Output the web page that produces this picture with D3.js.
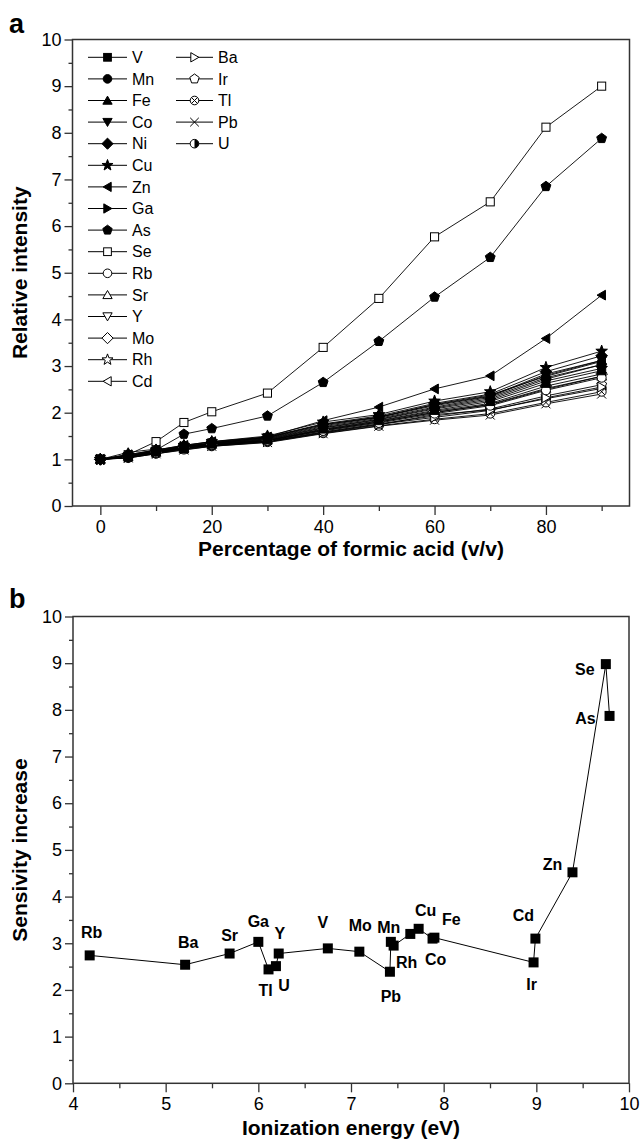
<!DOCTYPE html>
<html><head><meta charset="utf-8">
<script src="https://cdn.jsdelivr.net/npm/d3@7/dist/d3.min.js"></script>
<style>body{margin:0;background:#fff}svg{display:block}text{font-family:"Liberation Sans",Arial,Helvetica,sans-serif}</style>
</head><body><svg id="c" width="641" height="1140"></svg>
<script>
// ---------------- DATA ----------------
const formicPct = [0, 5, 10, 15, 20, 30, 40, 50, 60, 70, 80, 90];

const relV  = [1, 1.05, 1.16, 1.25, 1.33, 1.42, 1.65, 1.83, 2.05, 2.24, 2.63, 2.90];
const relMn = [1, 1.05, 1.17, 1.26, 1.34, 1.44, 1.68, 1.86, 2.10, 2.30, 2.72, 3.03];
const relFe = [1, 1.15, 1.22, 1.22, 1.36, 1.47, 1.74, 1.91, 2.17, 2.36, 2.83, 3.12];
const relCo = [1, 1.06, 1.18, 1.27, 1.35, 1.46, 1.72, 1.90, 2.15, 2.35, 2.80, 3.12];
const relNi = [1, 1.07, 1.19, 1.29, 1.37, 1.48, 1.76, 1.93, 2.20, 2.40, 2.88, 3.22];
const relCu = [1, 1.08, 1.20, 1.30, 1.38, 1.50, 1.80, 1.96, 2.25, 2.45, 2.97, 3.32];
const relZn = [1, 1.10, 1.20, 1.30, 1.38, 1.48, 1.83, 2.12, 2.51, 2.79, 3.59, 4.52];
const relGa = [1, 1.06, 1.17, 1.28, 1.34, 1.45, 1.70, 1.88, 2.12, 2.33, 2.75, 3.03];
const relAs = [1, 1.10, 1.20, 1.54, 1.66, 1.93, 2.65, 3.53, 4.48, 5.33, 6.85, 7.88];
const relSe = [1, 1.10, 1.38, 1.79, 2.02, 2.42, 3.40, 4.45, 5.77, 6.52, 8.12, 9.00];
const relRb = [1, 1.04, 1.14, 1.25, 1.31, 1.40, 1.61, 1.78, 1.98, 2.15, 2.48, 2.75];
const relSr = [1, 1.06, 1.15, 1.25, 1.32, 1.41, 1.63, 1.80, 2.00, 2.18, 2.52, 2.78];
const relY  = [1, 1.05, 1.14, 1.24, 1.31, 1.40, 1.62, 1.80, 2.01, 2.17, 2.50, 2.78];
const relMo = [1, 1.05, 1.15, 1.26, 1.32, 1.41, 1.64, 1.82, 2.03, 2.20, 2.57, 2.83];
const relRh = [1, 1.06, 1.16, 1.27, 1.33, 1.43, 1.67, 1.85, 2.08, 2.27, 2.68, 2.95];
const relCd = [1, 1.07, 1.18, 1.28, 1.35, 1.47, 1.75, 1.90, 2.18, 2.38, 2.78, 3.10];
const relBa = [1, 1.04, 1.13, 1.23, 1.30, 1.38, 1.58, 1.75, 1.90, 2.05, 2.32, 2.55];
const relIr = [1, 1.05, 1.14, 1.24, 1.30, 1.39, 1.59, 1.76, 1.93, 2.08, 2.36, 2.60];
const relTl = [1, 1.03, 1.12, 1.21, 1.28, 1.37, 1.56, 1.72, 1.86, 1.98, 2.22, 2.45];
const relPb = [1, 1.03, 1.12, 1.20, 1.28, 1.36, 1.55, 1.71, 1.84, 1.95, 2.19, 2.40];
const relU  = [1, 1.04, 1.13, 1.22, 1.29, 1.38, 1.57, 1.74, 1.96, 2.06, 2.30, 2.52];

const legendCol1 = ["V","Mn","Fe","Co","Ni","Cu","Zn","Ga","As","Se","Rb","Sr","Y","Mo","Rh","Cd"];
const legendCol2 = ["Ba","Ir","Tl","Pb","U"];

const ieElements = ["Rb","Ba","Sr","Ga","Tl","U","Y","V","Mo","Pb","Mn","Rh","Ni","Cu","Co","Fe","Ir","Cd","Zn","Se","As"];
const ionizationEnergy = [4.18,5.21,5.69,6.00,6.11,6.19,6.22,6.75,7.09,7.42,7.43,7.46,7.64,7.73,7.88,7.90,8.97,8.99,9.39,9.75,9.79];
const sensitivityIncrease = [2.74,2.54,2.78,3.03,2.44,2.51,2.78,2.89,2.82,2.39,3.03,2.95,3.20,3.31,3.10,3.12,2.59,3.10,4.52,8.98,7.87];
const labelledElements = ["Rb","Ba","Sr","Ga","Tl","U","Y","V","Mo","Pb","Mn","Rh","Cu","Co","Fe","Ir","Cd","Zn","Se","As"];

const aYTicks = [0,1,2,3,4,5,6,7,8,9,10];
const aYMinor = [0.5,1.5,2.5,3.5,4.5,5.5,6.5,7.5,8.5,9.5];
const aXTicks = [0,20,40,60,80];
const aXMinor = [10,30,50,70,90];
const bXTicks = [4,5,6,7,8,9,10];
const bXMinor = [4.5,5.5,6.5,7.5,8.5,9.5];

const seriesTable = {V:relV,Mn:relMn,Fe:relFe,Co:relCo,Ni:relNi,Cu:relCu,Zn:relZn,Ga:relGa,As:relAs,Se:relSe,
  Rb:relRb,Sr:relSr,Y:relY,Mo:relMo,Rh:relRh,Cd:relCd,Ba:relBa,Ir:relIr,Tl:relTl,Pb:relPb,U:relU};

// ---------------- STYLE / LAYOUT ----------------
const markerStyle = {
  V:["square",1],Mn:["circle",1],Fe:["triUp",1],Co:["triDown",1],Ni:["diamond",1],Cu:["star",1],
  Zn:["triLeft",1],Ga:["triRight",1],As:["pentagon",1],Se:["square",0],Rb:["circle",0],Sr:["triUp",0],
  Y:["triDown",0],Mo:["diamond",0],Rh:["star",0],Cd:["triLeft",0],Ba:["triRight",0],Ir:["pentagon",0],
  Tl:["circX",0],Pb:["x",0],U:["half",0]
};
const labelOffset = {
  Rb:[2,-23],Ba:[3,-22],Sr:[0,-18],Ga:[0,-21],Y:[1,-20],Tl:[-3,21],U:[8,19],V:[-5,-26],Mo:[1,-26],
  Mn:[-2,-15],Rh:[13,17],Cu:[7,-19],Fe:[17,-18],Co:[3,21],Pb:[1,25],Ir:[-2,22],Cd:[-12,-23],
  Zn:[-20,-8],Se:[-21,5],As:[-24,2]
};

const svg = d3.select("#c");
const INK = "#000", FRAME = "#333";

function regPoly(n, r, rotDeg){
  const pts=[]; for(let i=0;i<n;i++){const a=(rotDeg+i*360/n)*Math.PI/180; pts.push([r*Math.cos(a), r*Math.sin(a)]);}
  return "M"+pts.map(p=>p[0].toFixed(2)+","+p[1].toFixed(2)).join("L")+"Z";
}
function starPath(ro, ri){
  const pts=[]; for(let i=0;i<10;i++){const r=i%2?ri:ro; const a=(-90+i*36)*Math.PI/180; pts.push([r*Math.cos(a), r*Math.sin(a)]);}
  return "M"+pts.map(p=>p[0].toFixed(2)+","+p[1].toFixed(2)).join("L")+"Z";
}
function drawMarker(g, name, x, y, r){
  const [shape, filled] = markerStyle[name];
  const m = g.append("g").attr("transform",`translate(${x},${y})`);
  const fill = filled ? INK : "#fff";
  const sw = 1;
  switch(shape){
    case "square": m.append("rect").attr("x",-r*0.9).attr("y",-r*0.9).attr("width",r*1.8).attr("height",r*1.8).attr("fill",fill).attr("stroke",INK).attr("stroke-width",sw); break;
    case "circle": m.append("circle").attr("r",r).attr("fill",fill).attr("stroke",INK).attr("stroke-width",sw); break;
    case "triUp": m.append("path").attr("d",regPoly(3,r*1.25,-90)).attr("transform","translate(0,1)").attr("fill",fill).attr("stroke",INK).attr("stroke-width",sw); break;
    case "triDown": m.append("path").attr("d",regPoly(3,r*1.25,90)).attr("transform","translate(0,-1)").attr("fill",fill).attr("stroke",INK).attr("stroke-width",sw); break;
    case "triLeft": m.append("path").attr("d",regPoly(3,r*1.25,180)).attr("transform","translate(1,0)").attr("fill",fill).attr("stroke",INK).attr("stroke-width",sw); break;
    case "triRight": m.append("path").attr("d",regPoly(3,r*1.25,0)).attr("transform","translate(-1,0)").attr("fill",fill).attr("stroke",INK).attr("stroke-width",sw); break;
    case "diamond": m.append("path").attr("d",regPoly(4,r*1.3,-90)).attr("fill",fill).attr("stroke",INK).attr("stroke-width",sw); break;
    case "pentagon": m.append("path").attr("d",regPoly(5,r*1.15,-90)).attr("fill",fill).attr("stroke",INK).attr("stroke-width",sw); break;
    case "star": m.append("path").attr("d",starPath(r*1.35,r*0.55)).attr("fill",fill).attr("stroke",INK).attr("stroke-width",sw); break;
    case "circX":
      m.append("circle").attr("r",r).attr("fill","#fff").attr("stroke",INK).attr("stroke-width",sw);
      const k=r*0.7;
      m.append("path").attr("d",`M${-k},${-k}L${k},${k}M${-k},${k}L${k},${-k}`).attr("stroke",INK).attr("stroke-width",sw); break;
    case "x":
      m.append("path").attr("d",`M${-r},${-r}L${r},${r}M${-r},${r}L${r},${-r}`).attr("stroke",INK).attr("stroke-width",sw).attr("fill","none"); break;
    case "half":
      m.append("circle").attr("r",r).attr("fill","#fff").attr("stroke",INK).attr("stroke-width",sw);
      m.append("path").attr("d",`M0,${-r}A${r},${r} 0 0 1 0,${r}Z`).attr("fill",INK); break;
  }
}

function styleAxis(g, fontSize){
  g.select(".domain").remove();
  g.selectAll(".tick line").attr("stroke",FRAME).attr("stroke-width",1.3);
  g.selectAll(".tick text").attr("fill",INK).style("font-size",fontSize+"px").style("font-family",'"Liberation Sans",Arial,sans-serif');
}

// ---------------- PANEL A ----------------
const ax = d3.scaleLinear().domain([-5,95]).range([72.5,629.5]);
const ay = d3.scaleLinear().domain([0,10]).range([506,39.5]);

const gA = svg.append("g");
gA.append("g").attr("transform","translate(72.5,0)").call(d3.axisLeft(ay).tickValues(aYTicks).tickSize(8).tickPadding(3).tickFormat(d3.format("d"))).call(g=>styleAxis(g,18));
gA.append("g").attr("transform","translate(72.5,0)").call(d3.axisLeft(ay).tickValues(aYMinor).tickSize(4).tickFormat("")).call(g=>styleAxis(g,18));
gA.append("g").attr("transform","translate(0,506)").call(d3.axisBottom(ax).tickValues(aXTicks).tickSize(9).tickPadding(5).tickFormat(d3.format("d"))).call(g=>styleAxis(g,18));
gA.append("g").attr("transform","translate(0,506)").call(d3.axisBottom(ax).tickValues(aXMinor).tickSize(5).tickFormat("")).call(g=>styleAxis(g,18));
gA.append("rect").attr("x",72.5).attr("y",39.5).attr("width",629.5-72.5).attr("height",506-39.5).attr("fill","none").attr("stroke",FRAME).attr("stroke-width",1.5);

const lineA = d3.line().x((d,i)=>ax(formicPct[i])).y(d=>ay(d));
const allNames = legendCol1.concat(legendCol2);
const drawOrder = allNames.slice().reverse();
drawOrder.forEach(name=>{
  const vals = seriesTable[name];
  gA.append("path").attr("d",lineA(vals)).attr("fill","none").attr("stroke",INK).attr("stroke-width",0.9);
});
drawOrder.forEach(name=>{
  seriesTable[name].forEach((v,i)=>drawMarker(gA,name,ax(formicPct[i]),ay(v),4.5));
});

// legend
const legRow0 = 57.3, legStep = 21.6;
function legendItem(name, row, x0, x1, tx){
  const y = legRow0 + row*legStep;
  gA.append("line").attr("x1",x0).attr("x2",x1).attr("y1",y).attr("y2",y).attr("stroke",INK).attr("stroke-width",1);
  drawMarker(gA,name,(x0+x1)/2,y,4.3);
  gA.append("text").attr("x",tx).attr("y",y).attr("dy","0.36em").style("font-size","16px").attr("fill",INK).text(name);
}
legendCol1.forEach((n,i)=>legendItem(n,i,88,127,132));
legendCol2.forEach((n,i)=>legendItem(n,i,176,213,218));

svg.append("text").attr("x",9).attr("y",33).style("font-size","27px").style("font-weight","bold").text("a");
svg.append("text").attr("transform","translate(27,272.75) rotate(-90)").attr("text-anchor","middle").style("font-size","21px").style("font-weight","bold").text("Relative intensity");
svg.append("text").attr("x",351).attr("y",556).attr("text-anchor","middle").style("font-size","21px").style("font-weight","bold").text("Percentage of formic acid (v/v)");

// ---------------- PANEL B ----------------
const bx = d3.scaleLinear().domain([4,10]).range([73,629]);
const by = d3.scaleLinear().domain([0,10]).range([1083.3,616.5]);
const gB = svg.append("g");
gB.append("g").attr("transform","translate(73,0)").call(d3.axisLeft(by).tickValues(aYTicks).tickSize(8).tickPadding(3).tickFormat(d3.format("d"))).call(g=>styleAxis(g,18));
gB.append("g").attr("transform","translate(73,0)").call(d3.axisLeft(by).tickValues(aYMinor).tickSize(4).tickFormat("")).call(g=>styleAxis(g,18));
gB.append("g").attr("transform","translate(0,1083.3)").call(d3.axisBottom(bx).tickValues(bXTicks).tickSize(9).tickPadding(5).tickFormat(d3.format("d"))).call(g=>styleAxis(g,18));
gB.append("g").attr("transform","translate(0,1083.3)").call(d3.axisBottom(bx).tickValues(bXMinor).tickSize(5).tickFormat("")).call(g=>styleAxis(g,18));
gB.append("rect").attr("x",73).attr("y",616.5).attr("width",629-73).attr("height",1083.3-616.5).attr("fill","none").attr("stroke",FRAME).attr("stroke-width",1.5);

const ptsB = ieElements.map((n,i)=>({n, x:ionizationEnergy[i], y:sensitivityIncrease[i]}));
gB.append("path").attr("d",d3.line().x(d=>bx(d.x)).y(d=>by(d.y))(ptsB)).attr("fill","none").attr("stroke",INK).attr("stroke-width",1);
gB.selectAll("rect.pt").data(ptsB).join("rect").attr("class","pt")
  .attr("x",d=>bx(d.x)-5).attr("y",d=>by(d.y)-5).attr("width",10).attr("height",10).attr("fill",INK);
gB.selectAll("text.lab").data(ptsB.filter(d=>labelledElements.includes(d.n))).join("text").attr("class","lab")
  .attr("x",d=>bx(d.x)+labelOffset[d.n][0]).attr("y",d=>by(d.y)+labelOffset[d.n][1]).attr("dy","0.36em")
  .attr("text-anchor","middle").style("font-size","16px").style("font-weight","bold").text(d=>d.n);

svg.append("text").attr("x",9).attr("y",608).style("font-size","27px").style("font-weight","bold").text("b");
svg.append("text").attr("transform","translate(27,850) rotate(-90)").attr("text-anchor","middle").style("font-size","21px").style("font-weight","bold").text("Sensivity increase");
svg.append("text").attr("x",351).attr("y",1135).attr("text-anchor","middle").style("font-size","21px").style("font-weight","bold").text("Ionization energy (eV)");
</script></body></html>
